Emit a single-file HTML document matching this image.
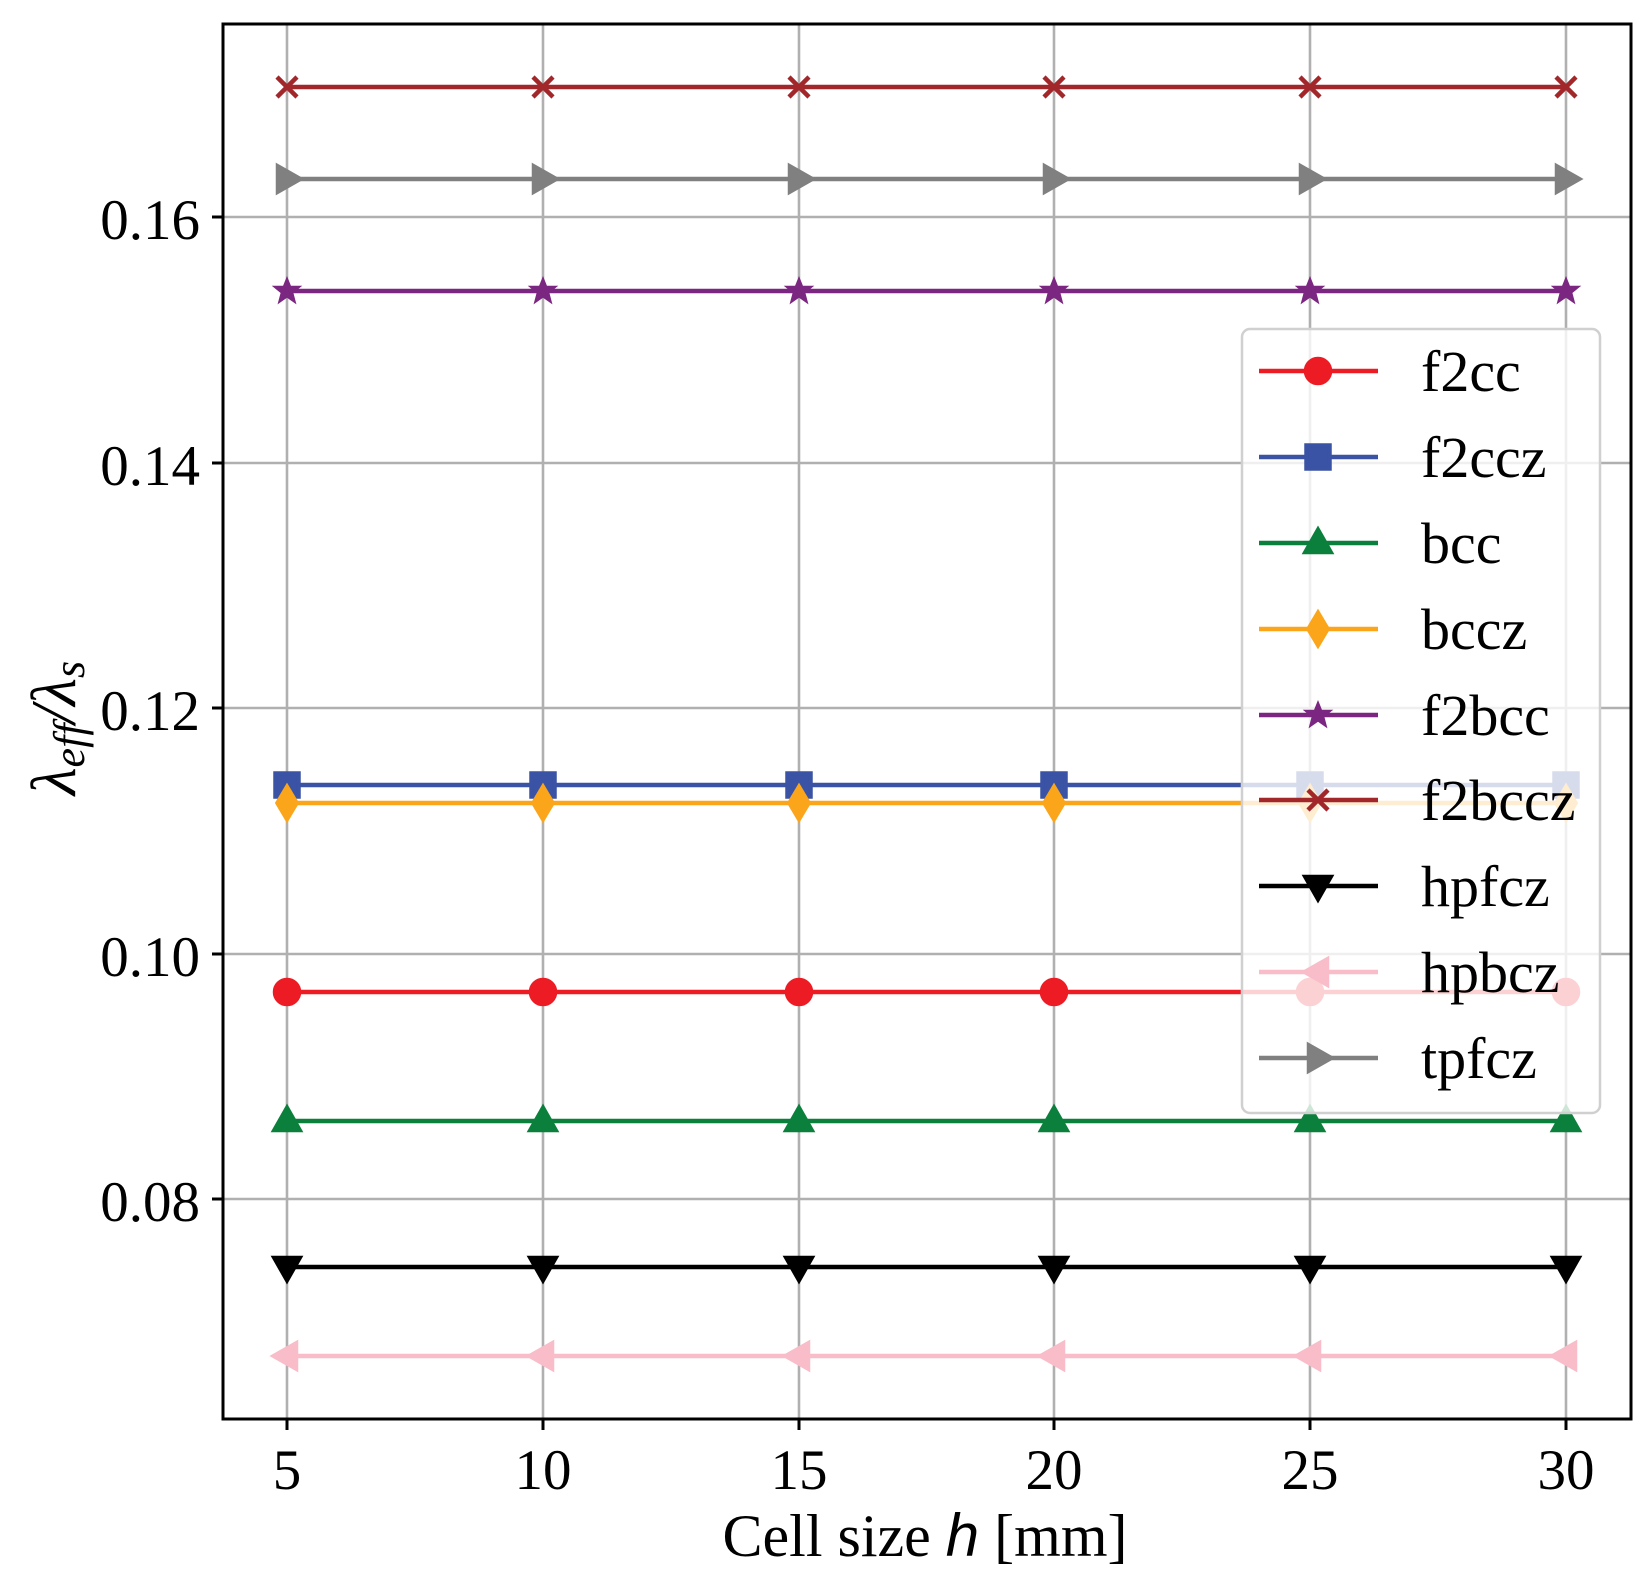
<!DOCTYPE html>
<html><head><meta charset="utf-8"><style>
html,body{margin:0;padding:0;background:#fff}
svg{display:block}
text{font-family:"Liberation Serif",serif;fill:#000}
</style></head><body>
<svg width="1652" height="1586" viewBox="0 0 1652 1586" xmlns="http://www.w3.org/2000/svg">
<defs>
<g id="mo"><circle r="12"/></g>
<g id="ms"><rect x="-11.5" y="-11.5" width="23" height="23"/></g>
<g id="mt"><polygon points="0,-13 12.5,9 -12.5,9"/></g>
<g id="md"><polygon points="0,-16 9.5,0 0,16 -9.5,0"/></g>
<g id="mst"><polygon points="0,-9 2.4,-3 9,-3 3.9,1.2 5.7,8 0,4 -5.7,8 -3.9,1.2 -9,-3 -2.4,-3"/></g>
<g id="mx"><path d="M-10,-10L10,10M-10,10L10,-10" stroke-width="4.5" fill="none"/></g>
<g id="mv"><polygon points="0,13 12.5,-9 -12.5,-9"/></g>
<g id="ml"><polygon points="-13,0 9,-12.5 9,12.5"/></g>
<g id="mr"><polygon points="13,0 -9,-12.5 -9,12.5"/></g>
</defs>
<g stroke="#b0b0b0" stroke-width="2.6">
<line x1="287" y1="24" x2="287" y2="1419"/>
<line x1="543" y1="24" x2="543" y2="1419"/>
<line x1="799" y1="24" x2="799" y2="1419"/>
<line x1="1054" y1="24" x2="1054" y2="1419"/>
<line x1="1310" y1="24" x2="1310" y2="1419"/>
<line x1="1566" y1="24" x2="1566" y2="1419"/>
<line x1="223" y1="217" x2="1631" y2="217"/>
<line x1="223" y1="463" x2="1631" y2="463"/>
<line x1="223" y1="708" x2="1631" y2="708"/>
<line x1="223" y1="954" x2="1631" y2="954"/>
<line x1="223" y1="1199" x2="1631" y2="1199"/>
</g>
<g stroke-width="4.5">
<g stroke="#ed1c24" fill="#ed1c24"><line x1="287" x2="1566" y1="992" y2="992"/>
<use href="#mo" x="287" y="992"/><use href="#mo" x="543" y="992"/><use href="#mo" x="799" y="992"/><use href="#mo" x="1054" y="992"/><use href="#mo" x="1310" y="992"/><use href="#mo" x="1566" y="992"/></g>
<g stroke="#3a53a4" fill="#3a53a4"><line x1="287" x2="1566" y1="785" y2="785"/>
<use href="#ms" x="287" y="785"/><use href="#ms" x="543" y="785"/><use href="#ms" x="799" y="785"/><use href="#ms" x="1054" y="785"/><use href="#ms" x="1310" y="785"/><use href="#ms" x="1566" y="785"/></g>
<g stroke="#0b803c" fill="#0b803c"><line x1="287" x2="1566" y1="1121" y2="1121"/>
<use href="#mt" x="287" y="1121"/><use href="#mt" x="543" y="1121"/><use href="#mt" x="799" y="1121"/><use href="#mt" x="1054" y="1121"/><use href="#mt" x="1310" y="1121"/><use href="#mt" x="1566" y="1121"/></g>
<g stroke="#faa51a" fill="#faa51a"><line x1="287" x2="1566" y1="803" y2="803"/>
<use href="#md" x="287" y="803"/><use href="#md" x="543" y="803"/><use href="#md" x="799" y="803"/><use href="#md" x="1054" y="803"/><use href="#md" x="1310" y="803"/><use href="#md" x="1566" y="803"/></g>
<g stroke="#7b2680" fill="#7b2680"><line x1="287" x2="1566" y1="291" y2="291"/>
<use href="#mst" x="287" y="291"/><use href="#mst" x="543" y="291"/><use href="#mst" x="799" y="291"/><use href="#mst" x="1054" y="291"/><use href="#mst" x="1310" y="291"/><use href="#mst" x="1566" y="291"/></g>
<g stroke="#a2272b" fill="#a2272b"><line x1="287" x2="1566" y1="87" y2="87"/>
<use href="#mx" x="287" y="87"/><use href="#mx" x="543" y="87"/><use href="#mx" x="799" y="87"/><use href="#mx" x="1054" y="87"/><use href="#mx" x="1310" y="87"/><use href="#mx" x="1566" y="87"/></g>
<g stroke="#000" fill="#000"><line x1="287" x2="1566" y1="1267" y2="1267"/>
<use href="#mv" x="287" y="1267"/><use href="#mv" x="543" y="1267"/><use href="#mv" x="799" y="1267"/><use href="#mv" x="1054" y="1267"/><use href="#mv" x="1310" y="1267"/><use href="#mv" x="1566" y="1267"/></g>
<g stroke="#f8bdc9" fill="#f8bdc9"><line x1="287" x2="1566" y1="1356" y2="1356"/>
<use href="#ml" x="287" y="1356"/><use href="#ml" x="543" y="1356"/><use href="#ml" x="799" y="1356"/><use href="#ml" x="1054" y="1356"/><use href="#ml" x="1310" y="1356"/><use href="#ml" x="1566" y="1356"/></g>
<g stroke="#808080" fill="#808080"><line x1="287" x2="1566" y1="179" y2="179"/>
<use href="#mr" x="287" y="179"/><use href="#mr" x="543" y="179"/><use href="#mr" x="799" y="179"/><use href="#mr" x="1054" y="179"/><use href="#mr" x="1310" y="179"/><use href="#mr" x="1566" y="179"/></g>
</g>
<rect x="223" y="24" width="1408" height="1395" fill="none" stroke="#000" stroke-width="3"/>
<g stroke="#000" stroke-width="3">
<line x1="287" y1="1419" x2="287" y2="1430"/><line x1="543" y1="1419" x2="543" y2="1430"/><line x1="799" y1="1419" x2="799" y2="1430"/><line x1="1054" y1="1419" x2="1054" y2="1430"/><line x1="1310" y1="1419" x2="1310" y2="1430"/><line x1="1566" y1="1419" x2="1566" y2="1430"/>
<line x1="212" y1="217" x2="223" y2="217"/><line x1="212" y1="463" x2="223" y2="463"/><line x1="212" y1="708" x2="223" y2="708"/><line x1="212" y1="954" x2="223" y2="954"/><line x1="212" y1="1199" x2="223" y2="1199"/>
</g>
<g font-size="57" text-anchor="middle">
<text x="287" y="1489">5</text><text x="543" y="1489">10</text><text x="799" y="1489">15</text><text x="1054" y="1489">20</text><text x="1310" y="1489">25</text><text x="1566" y="1489">30</text>
</g>
<g font-size="57" text-anchor="end">
<text x="200" y="239">0.16</text><text x="200" y="485">0.14</text><text x="200" y="730">0.12</text><text x="200" y="976">0.10</text><text x="200" y="1221">0.08</text>
</g>
<text x="925" y="1556" font-size="60" text-anchor="middle">Cell size <tspan font-family="Liberation Sans, sans-serif" font-style="italic">h</tspan> [mm]</text>
<text transform="translate(75,728) rotate(-90)" font-size="64" text-anchor="middle" font-family="Liberation Sans, sans-serif" font-style="italic">λ<tspan font-size="44" dy="9">eff</tspan><tspan dy="-9">/λ</tspan><tspan font-size="44" dy="9">s</tspan></text>
<rect x="1242" y="329" width="358" height="784" rx="8" fill="#fff" fill-opacity="0.8" stroke="#d0d0d0" stroke-width="2.5"/>
<g stroke-width="4.5">
<g stroke="#ed1c24" fill="#ed1c24"><line x1="1259" x2="1378" y1="371" y2="371"/><use href="#mo" x="1318" y="371"/></g>
<g stroke="#3a53a4" fill="#3a53a4"><line x1="1259" x2="1378" y1="457" y2="457"/><use href="#ms" x="1318" y="457"/></g>
<g stroke="#0b803c" fill="#0b803c"><line x1="1259" x2="1378" y1="543" y2="543"/><use href="#mt" x="1318" y="543"/></g>
<g stroke="#faa51a" fill="#faa51a"><line x1="1259" x2="1378" y1="629" y2="629"/><use href="#md" x="1318" y="629"/></g>
<g stroke="#7b2680" fill="#7b2680"><line x1="1259" x2="1378" y1="715" y2="715"/><use href="#mst" x="1318" y="715"/></g>
<g stroke="#a2272b" fill="#a2272b"><line x1="1259" x2="1378" y1="800" y2="800"/><use href="#mx" x="1318" y="800"/></g>
<g stroke="#000" fill="#000"><line x1="1259" x2="1378" y1="886" y2="886"/><use href="#mv" x="1318" y="886"/></g>
<g stroke="#f8bdc9" fill="#f8bdc9"><line x1="1259" x2="1378" y1="972" y2="972"/><use href="#ml" x="1318" y="972"/></g>
<g stroke="#808080" fill="#808080"><line x1="1259" x2="1378" y1="1058" y2="1058"/><use href="#mr" x="1318" y="1058"/></g>
</g>
<g font-size="58">
<text x="1421" y="391">f2cc</text><text x="1421" y="477">f2ccz</text><text x="1421" y="563">bcc</text><text x="1421" y="649">bccz</text><text x="1421" y="735">f2bcc</text><text x="1421" y="820">f2bccz</text><text x="1421" y="906">hpfcz</text><text x="1421" y="992">hpbcz</text><text x="1421" y="1078">tpfcz</text>
</g>
</svg>
</body></html>
